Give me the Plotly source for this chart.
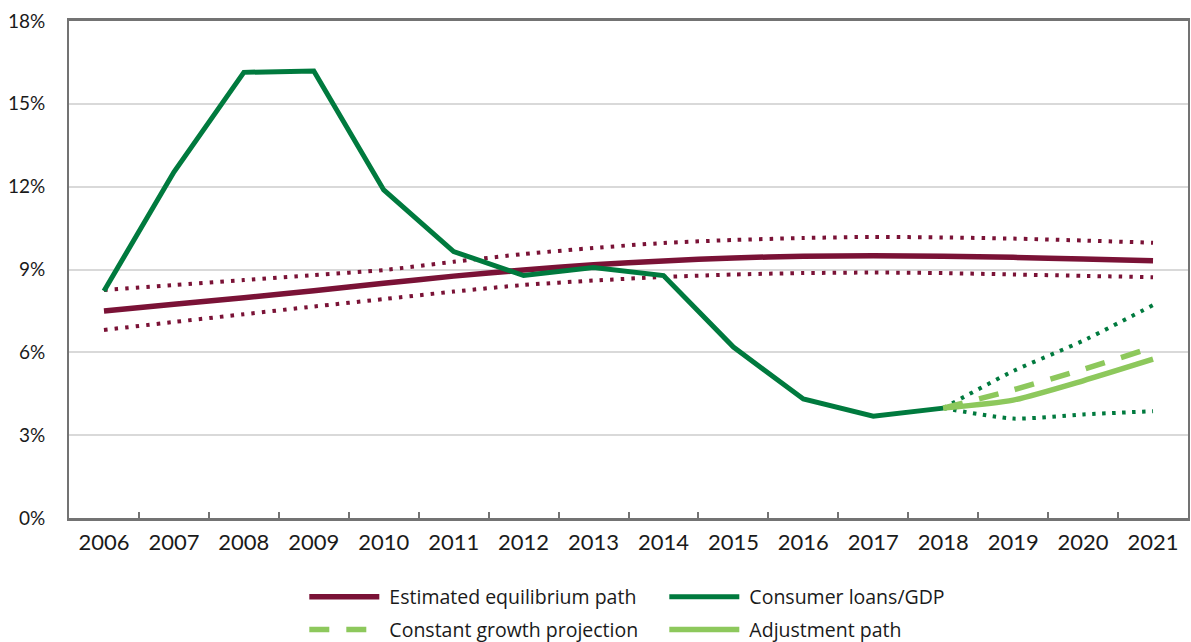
import plotly.graph_objects as go

years = [str(y) for y in range(2006, 2022)]
proj_years = ["2018", "2019", "2020", "2021"]
hist_years = years[:13]
y_ticks = [0, 3, 6, 9, 12, 15, 18]
y_tick_labels = ["0%", "3%", "6%", "9%", "12%", "15%", "18%"]

consumer_loans = [8.22, 12.53, 16.14, 16.19, 11.88, 9.65, 8.78, 9.07, 8.78, 6.19, 4.31, 3.69, 3.98]
equilibrium = [7.50, 7.74, 7.98, 8.23, 8.50, 8.76, 8.98, 9.17, 9.31, 9.42, 9.48, 9.50, 9.48, 9.44, 9.38, 9.32]
equil_upper = [8.26, 8.44, 8.62, 8.80, 8.98, 9.28, 9.56, 9.78, 9.96, 10.07, 10.14, 10.18, 10.16, 10.12, 10.05, 9.97]
equil_lower = [6.81, 7.10, 7.38, 7.66, 7.93, 8.20, 8.44, 8.60, 8.73, 8.82, 8.87, 8.89, 8.87, 8.82, 8.77, 8.72]
proj_upper = [3.98, 5.32, 6.42, 7.71]
proj_lower = [3.98, 3.60, 3.75, 3.87]
constant_growth = [3.98, 4.64, 5.38, 6.18]
adjustment = [3.98, 4.27, 4.97, 5.75]

MAROON = "#7a1236"
DGREEN = "#007a3e"
LGREEN = "#8dc85c"
FONT = "Lato"
LFONT = "Open Sans"
NB = "\u00a0"

fig = go.Figure()
fig.add_trace(go.Scatter(x=years, y=equil_upper, mode="lines", showlegend=False,
                         line=dict(color=MAROON, width=4, dash="3.5px,7.1px", shape="spline", smoothing=0.6)))
fig.add_trace(go.Scatter(x=years, y=equil_lower, mode="lines", showlegend=False,
                         line=dict(color=MAROON, width=4, dash="3.5px,7.1px", shape="spline", smoothing=0.6)))
fig.add_trace(go.Scatter(x=years, y=equilibrium, mode="lines", name=NB + "Estimated equilibrium path",
                         legend="legend", legendrank=1,
                         line=dict(color=MAROON, width=5.5, shape="spline", smoothing=0.6)))
fig.add_trace(go.Scatter(x=hist_years, y=consumer_loans, mode="lines", name=NB + "Consumer loans/GDP",
                         legend="legend", legendrank=2,
                         line=dict(color=DGREEN, width=5)))
fig.add_trace(go.Scatter(x=proj_years, y=proj_upper, mode="lines", showlegend=False,
                         line=dict(color=DGREEN, width=4, dash="3.5px,6.5px", shape="spline", smoothing=0.6)))
fig.add_trace(go.Scatter(x=proj_years, y=proj_lower, mode="lines", showlegend=False,
                         line=dict(color=DGREEN, width=4, dash="3.5px,6.5px", shape="spline", smoothing=0.6)))
fig.add_trace(go.Scatter(x=proj_years, y=constant_growth, mode="lines", name=NB + "Constant growth projection",
                         legend="legend2", legendrank=3,
                         line=dict(color=LGREEN, width=5.5, dash="20px,17px", shape="spline", smoothing=0.6)))
fig.add_trace(go.Scatter(x=proj_years, y=adjustment, mode="lines", name=NB + "Adjustment path",
                         legend="legend2", legendrank=4,
                         line=dict(color=LGREEN, width=5.5, shape="spline", smoothing=0.6)))

legend_common = dict(orientation="h", x=0.532, xanchor="center", yanchor="middle",
                     entrywidth=275, itemwidth=70, font=dict(size=19.5, family=LFONT, color="#1a1a1a"))

fig.update_layout(
    width=1191, height=642,
    margin=dict(l=69, r=3, t=21, b=124, autoexpand=False),
    paper_bgcolor="white", plot_bgcolor="white",
    font=dict(family=FONT, size=20, color="#1a1a1a"),
    legend=dict(y=-0.159, **legend_common),
    legend2=dict(y=-0.225, **legend_common),
    xaxis=dict(type="category", categoryorder="array", categoryarray=years,
               range=[-0.5, 15.5], tickson="boundaries", ticks="inside", ticklen=6, tickwidth=2,
               tickcolor="#737373", showline=True, linecolor="#737373", linewidth=2.5, mirror=True,
               showgrid=False, ticklabelstandoff=3, tickfont=dict(size=22)),
    yaxis=dict(range=[0, 18], tickvals=y_ticks, ticktext=y_tick_labels,
               showgrid=True, gridcolor="#d9d9d9", gridwidth=1.5,
               showline=True, linecolor="#737373", linewidth=2, mirror=True,
               ticks="", ticklabelstandoff=18, zeroline=False, tickfont=dict(size=19)),
)

fig.write_html("out.html", config={"displayModeBar": False},
               post_script="document.body.style.margin='0';")
